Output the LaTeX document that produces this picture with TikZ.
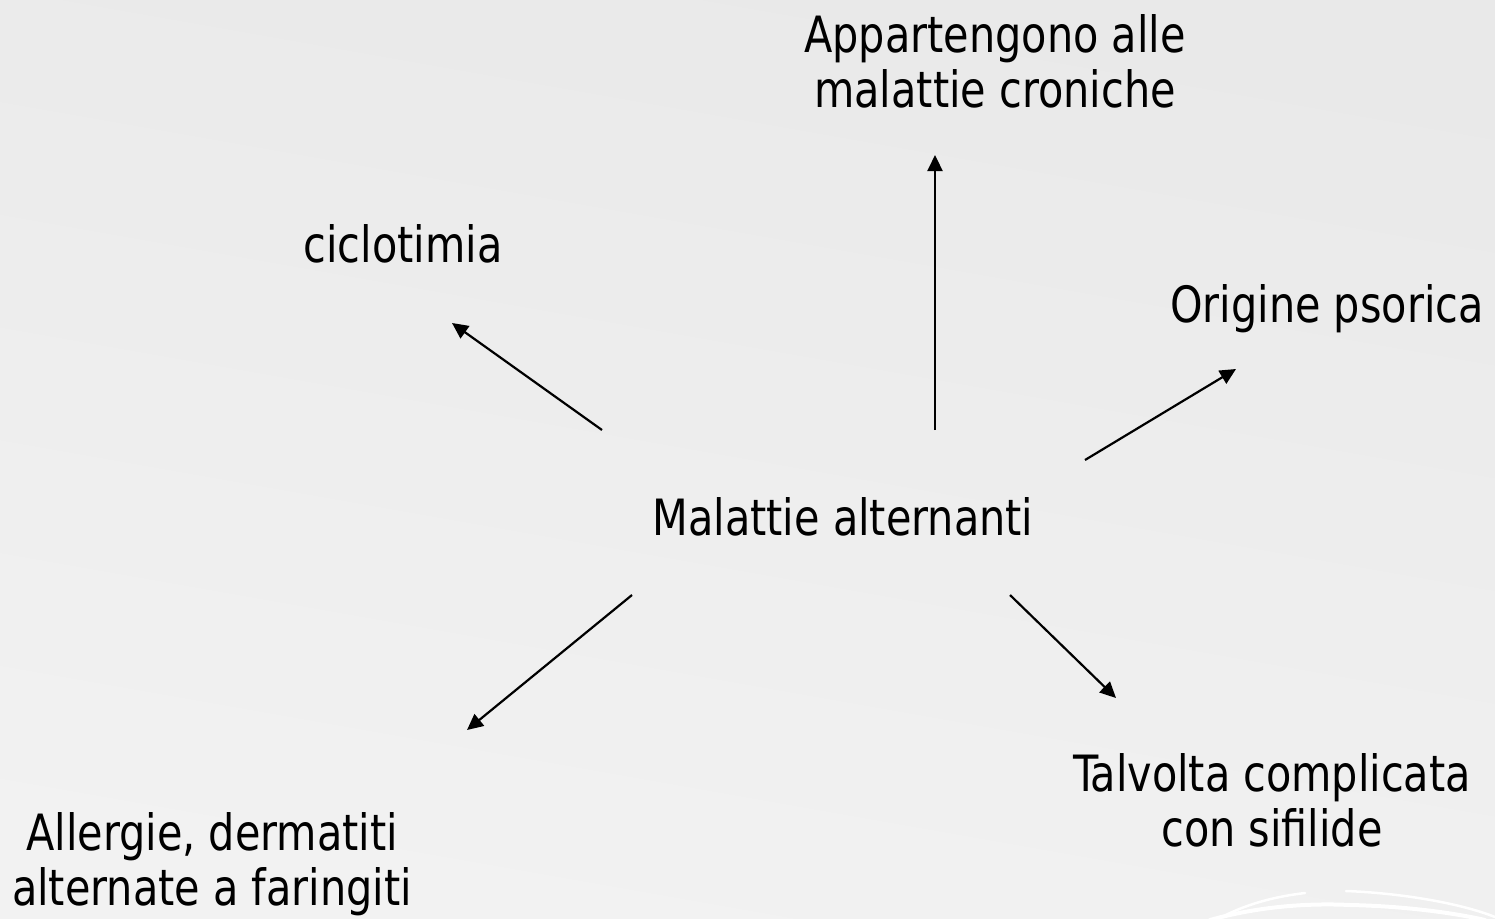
\documentclass[tikz,border=0pt]{standalone}
\usepackage{fontspec}
\setmainfont[FakeStretch=0.92]{DejaVu Sans Condensed}
\usetikzlibrary{arrows.meta}
\definecolor{bgtop}{HTML}{E9E9E9}
\definecolor{bgbottom}{HTML}{F2F2F2}
\tikzset{
  label text/.style={font=\fontsize{50}{55}\selectfont, align=center, inner sep=0pt, anchor=base, text=black},
  spoke/.style={line width=2.2pt, -{Triangle[length=16pt,width=15pt]}},
  swirl/.style={white, line cap=round},
}
\begin{document}
\begin{tikzpicture}[x=1pt,y=-1pt]
  % slide background
  \shade[top color=bgtop, bottom color=bgbottom, shading angle=-10]
    (0,0) rectangle (1495,918);
  \useasboundingbox (0,0) rectangle (1495,918);
  % faint decorative arcs in the lower right corner
  \draw[swirl, line width=2.5pt] (1220,918) .. controls (1250,902) and (1280,896) .. (1305,893);
  \draw[swirl, line width=2.5pt] (1346,891) .. controls (1400,893) and (1460,903) .. (1495,917);
  \draw[swirl, line width=4pt] (1210,920) .. controls (1260,906) and (1310,903) .. (1350,905)
                                 .. controls (1400,906) and (1450,912) .. (1485,920);

  % labels (base anchor sits on the last line's baseline)
  \node[label text] (center) at (843,535) {Malattie alternanti};
  \node[label text] (chronic) at (995,107) {Appartengono alle\\malattie croniche};
  \node[label text] (cyclo) at (403,262) {ciclotimia};
  \node[label text] (psora) at (1327,322) {Origine psorica};
  \node[label text] (syph) at (1272,846) {Talvolta complicata\\con sifilide};
  \node[label text] (allergy) at (212,905) {Allergie, dermatiti\\alternate a faringiti};

  % connector end points
  \coordinate (upA) at (935,430);   \coordinate (upB) at (935,155);
  \coordinate (cyA) at (602,430);   \coordinate (cyB) at (452,323);
  \coordinate (psA) at (1085,460);  \coordinate (psB) at (1236,369);
  \coordinate (alA) at (632,595);   \coordinate (alB) at (467,730);
  \coordinate (syA) at (1010,595);  \coordinate (syB) at (1116,698);

  \draw[spoke] (upA) -- (upB);
  \draw[spoke] (cyA) -- (cyB);
  \draw[spoke] (psA) -- (psB);
  \draw[spoke] (alA) -- (alB);
  \draw[spoke] (syA) -- (syB);
\end{tikzpicture}
\end{document}
